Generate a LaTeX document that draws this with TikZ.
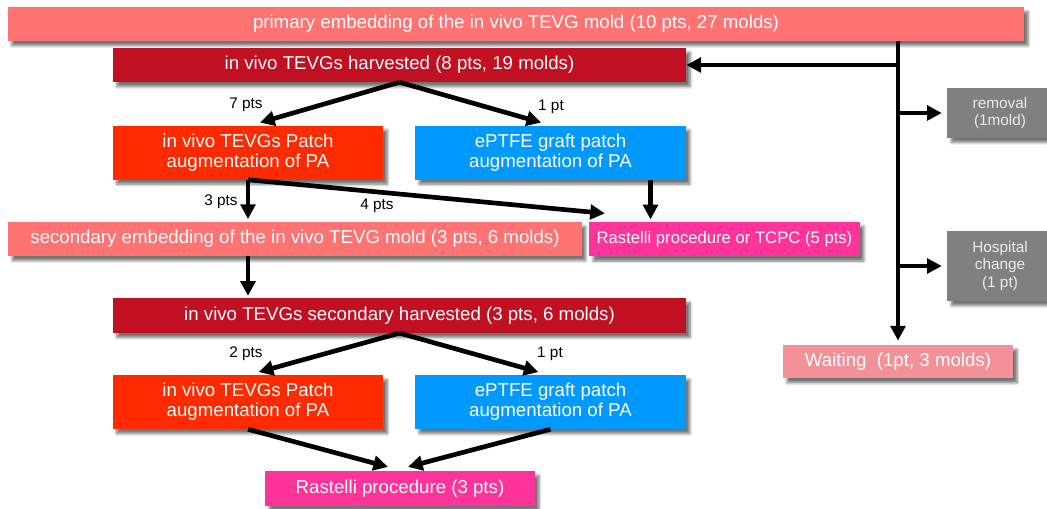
\documentclass[tikz,border=0pt]{standalone}
\usepackage{fontspec}
\setmainfont{Liberation Sans}
\usetikzlibrary{arrows.meta,shadows.blur}

\definecolor{embedc}{RGB}{255,115,115}
\definecolor{harvc}{RGB}{192,16,34}
\definecolor{patchc}{RGB}{255,42,0}
\definecolor{eptfec}{RGB}{0,153,255}
\definecolor{rastc}{RGB}{255,51,153}
\definecolor{grayc}{RGB}{128,128,128}
\definecolor{waitc}{RGB}{244,144,152}

\tikzset{
  flowbox/.style={inner sep=0pt, text=white, align=center,
    font=\fontsize{14}{15}\selectfont,
    blur shadow={shadow xshift=3pt, shadow yshift=-3.5pt, shadow blur radius=2pt,
      shadow blur steps=6, shadow opacity=55}},
  widebox/.style={flowbox, minimum width=430pt, minimum height=25.5pt},
  halfbox/.style={flowbox, minimum width=203pt, minimum height=40.5pt},
  sidebox/.style={flowbox, fill=grayc, text=black!8, font=\fontsize{11.5}{13}\selectfont, minimum width=79pt},
  ptlabel/.style={font=\fontsize{11.5}{13}\selectfont},
  arr/.style={line width=3.5pt, -{Triangle[length=11pt,width=11pt]}}
}

\begin{document}
\begin{tikzpicture}[x=0.75pt,y=0.75pt,yscale=-1,xscale=1]
\path[use as bounding box] (0,0) rectangle (1047,508);

% boxes, left column
\node[flowbox, fill=embedc, minimum width=762pt, minimum height=25.5pt] (top) at (516,24) {primary embedding of the in vivo TEVG mold (10 pts, 27 molds)};
\node[widebox, fill=harvc] (harv) at (399.5,65) {in vivo TEVGs harvested (8 pts, 19 molds)};
\node[halfbox, fill=patchc] (patch1) at (248,152.5) {in vivo TEVGs Patch\\augmentation of PA};
\node[halfbox, fill=eptfec] (eptfe1) at (550.5,152.5) {ePTFE graft patch\\augmentation of PA};
\node[widebox, fill=embedc] (embed2) at (295,239) {secondary embedding of the in vivo TEVG mold (3 pts, 6 molds)};
\node[flowbox, fill=rastc, minimum width=203pt, minimum height=26pt, font=\fontsize{12.5}{14}\selectfont] (rast1) at (724.5,239) {Rastelli procedure or TCPC (5 pts)};
\node[widebox, fill=harvc, minimum height=26pt] (harv2) at (399.5,315.5) {in vivo TEVGs secondary harvested (3 pts, 6 molds)};
\node[halfbox, fill=patchc] (patch2) at (248,402) {in vivo TEVGs Patch\\augmentation of PA};
\node[halfbox, fill=eptfec] (eptfe2) at (550.5,402) {ePTFE graft patch\\augmentation of PA};
\node[flowbox, fill=rastc, minimum width=202.5pt, minimum height=26pt] (rast3) at (400,488.5) {Rastelli procedure (3 pts)};

% boxes, right column
\node[sidebox, minimum height=37pt] (removal) at (1000,113) {removal\\(1mold)};
\node[sidebox, minimum height=52.5pt] (hospital) at (1000,266) {Hospital\\change\\(1 pt)};
\node[flowbox, fill=waitc, minimum width=172.5pt, minimum height=25pt] (waiting) at (898,361.5) {Waiting\ \ (1pt, 3 molds)};

% labels
\node[ptlabel] (l7) at (246,105) {7 pts};
\node[ptlabel] (l1a) at (551,107) {1 pt};
\node[ptlabel] (l3) at (221,202) {3 pts};
\node[ptlabel] (l4) at (377,206) {4 pts};
\node[ptlabel] (l2) at (246,354) {2 pts};
\node[ptlabel] (l1b) at (550,354) {1 pt};

% trunk and branches
\draw[arr] (top.south -| waiting.north) -- ([yshift=-3pt]waiting.north);
\draw[arr] (harv.east -| waiting.north) -- (harv.east);
\draw[arr] (removal.west -| waiting.north) -- ([xshift=-4pt]removal.west);
\draw[arr] (hospital.west -| waiting.north) -- ([xshift=-4pt]hospital.west);

% first harvest
\draw[arr] (harv.south) -- ([xshift=9pt,yshift=-2pt]patch1.north);
\draw[arr] (harv.south) -- ([xshift=-7pt,yshift=-2pt]eptfe1.north);
\draw[arr] (patch1.south) -- ([yshift=-2pt]patch1.south |- embed2.north);
\draw[arr] (patch1.south) -- ([xshift=12pt,yshift=-6pt]rast1.north west);
\draw[arr] ([xshift=75pt]eptfe1.south) -- ([xshift=75pt,yshift=-1.5pt]eptfe1.south |- rast1.north);
\draw[arr] (embed2.south -| patch1.south) -- ([yshift=-1.5pt]harv2.north -| patch1.south);

% second harvest
\draw[arr] (harv2.south) -- ([xshift=8pt,yshift=-2pt]patch2.north);
\draw[arr] (harv2.south) -- ([xshift=-9pt,yshift=-2pt]eptfe2.north);
\draw[arr] (patch2.south) -- ([xshift=-9pt,yshift=-3pt]rast3.north);
\draw[arr] (eptfe2.south) -- ([xshift=6pt,yshift=-3pt]rast3.north);
\end{tikzpicture}
\end{document}
